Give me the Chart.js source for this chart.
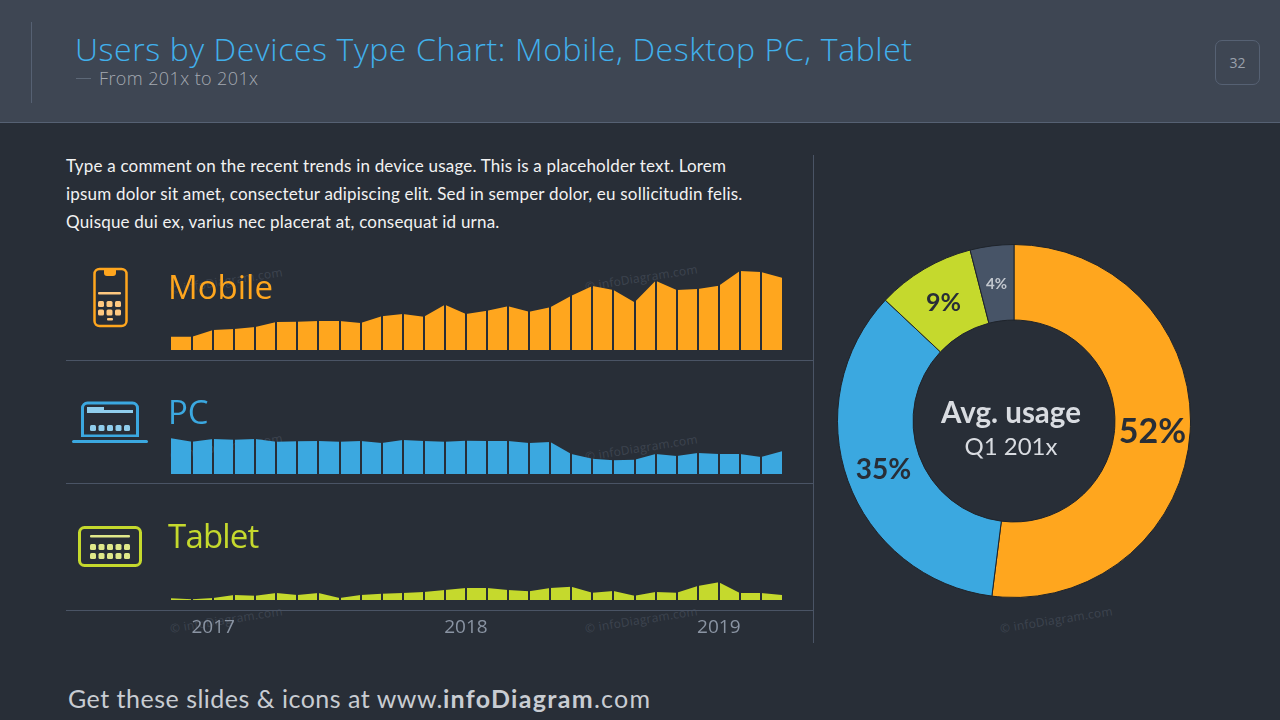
<!DOCTYPE html>
<html>
<head>
<meta charset="utf-8">
<title>Users by Devices Type Chart</title>
<script src="https://cdn.jsdelivr.net/npm/chart.js@4"></script>
<style>
    html, body { margin: 0; padding: 0; background: #282e37; }
    #slide { position: relative; width: 1280px; height: 720px; overflow: hidden; background: #282e37; font-family: Lato, sans-serif; }
    #header { position: absolute; left: 0; top: 0; width: 1280px; height: 122px; background: #3e4653; border-bottom: 1px solid #566173; }
    .txt { position: absolute; white-space: nowrap; }
    .line { position: absolute; background: #4a5465; }
    .mark { position: absolute; white-space: nowrap; color: #3d444f; font: 12px "Open Sans", sans-serif; letter-spacing: 0.25px; transform: rotate(-9deg); transform-origin: left center; }
    canvas { position: absolute; }
    svg { position: absolute; left: 0; top: 0; }
</style>
</head>
<body>
<div id="slide">
    <div id="header"></div>
    <div class="line" style="left:31px;top:22px;width:1px;height:81px;background:#566173"></div>
    <div class="txt" style="left:75px;top:27px;font:300 32px/44px 'Open Sans';color:#41b0ec;letter-spacing:0.6px">Users by Devices Type Chart: Mobile, Desktop PC, Tablet</div>
    <div class="line" style="left:76px;top:78px;width:15px;height:1px;background:#5d6877"></div>
    <div class="txt" style="left:99px;top:65px;font:300 18px/26px 'Open Sans';color:#a4a9b1;letter-spacing:0.4px">From 201x to 201x</div>
    <div class="txt" style="left:1215px;top:40px;width:43px;height:43px;border:1px solid #566173;border-radius:7px;text-align:center;font:14px/43px 'Open Sans';color:#9aa1ab">32</div>

    <div class="txt" style="left:66px;top:152px;font:17px/28px Lato;color:#f2f2f2;letter-spacing:0.2px">Type a comment on the recent trends in device usage. This is a placeholder text.  Lorem</div>
    <div class="txt" style="left:66px;top:180px;font:17px/28px Lato;color:#f2f2f2;letter-spacing:0.2px">ipsum dolor sit amet, consectetur adipiscing elit. Sed in semper dolor, eu sollicitudin felis.</div>
    <div class="txt" style="left:66px;top:208px;font:17px/28px Lato;color:#f2f2f2;letter-spacing:0.2px">Quisque dui ex, varius nec placerat at, consequat id urna.</div>

    <div class="mark" style="left:170px;top:281px">© infoDiagram.com</div>
    <div class="mark" style="left:585px;top:278px">© infoDiagram.com</div>
    <div class="mark" style="left:170px;top:447px">© infoDiagram.com</div>
    <div class="mark" style="left:585px;top:448px">© infoDiagram.com</div>
    <div class="mark" style="left:170px;top:620px">© infoDiagram.com</div>
    <div class="mark" style="left:585px;top:620px">© infoDiagram.com</div>
    <div class="mark" style="left:1000px;top:620px">© infoDiagram.com</div>

    <canvas id="mobileChart" width="611" height="100" style="left:171px;top:250px"></canvas>
    <canvas id="pcChart" width="611" height="100" style="left:171px;top:374px"></canvas>
    <canvas id="tabletChart" width="611" height="140" style="left:171px;top:500px"></canvas>

    <div class="txt" style="left:168px;top:264px;font:33px/46px 'Open Sans';color:#ffa61e">Mobile</div>
    <div class="txt" style="left:168px;top:389px;font:33px/46px 'Open Sans';color:#3ba8e0">PC</div>
    <div class="txt" style="left:168px;top:513px;font:33px/46px 'Open Sans';color:#c5d92d;letter-spacing:-0.8px">Tablet</div>

    <div class="line" style="left:66px;top:360px;width:747px;height:1px"></div>
    <div class="line" style="left:66px;top:483px;width:747px;height:1px"></div>
    <div class="line" style="left:66px;top:610px;width:747px;height:1px"></div>
    <div class="line" style="left:813px;top:155px;width:1px;height:488px"></div>

    <canvas id="usageChart" width="354" height="354" style="left:837px;top:244px"></canvas>
    <div class="txt" style="left:911px;top:393px;width:200px;text-align:center;font:700 29.5px/38px Lato;color:#d9dce1">Avg. usage</div>
    <div class="txt" style="left:911px;top:430px;width:200px;text-align:center;font:24px/32px Lato;color:#d9dce1">Q1 201x</div>

    <div class="txt" style="left:68px;top:680px;font:25px/36px Lato;color:#c8ccd2;letter-spacing:0.5px">Get these slides &amp; icons at www.<b style="letter-spacing:1.3px">infoDiagram</b><span style="letter-spacing:1.3px">.com</span></div>

    <svg width="1280" height="720">
        <!-- phone -->
        <g fill="none" stroke="#ffa61e" stroke-width="2.5"><rect x="94.5" y="269" width="32" height="57" rx="5"/></g>
        <path d="M104 268h12v5a3 3 0 0 1-3 3h-6a3 3 0 0 1-3-3z" fill="#ffa61e"/>
        <g fill="#ffc880">
            <rect x="98" y="292" width="23" height="2.5" rx="1"/>
            <rect x="98" y="301" width="6" height="6" rx="1.5"/><rect x="106.500" y="301" width="6" height="6" rx="1.5"/><rect x="115" y="301" width="6" height="6" rx="1.5"/>
            <rect x="98" y="309.500" width="6" height="6" rx="1.5"/><rect x="106.500" y="309.500" width="6" height="6" rx="1.5"/><rect x="115" y="309.500" width="6" height="6" rx="1.5"/>
            <rect x="107" y="318" width="6" height="2.5" rx="1"/>
        </g>
        <!-- laptop -->
        <path d="M82.500 436.500V408a5 5 0 0 1 5-5h45a5 5 0 0 1 5 5v28.500" fill="none" stroke="#3ba8e0" stroke-width="3"/>
        <rect x="81" y="434.500" width="58" height="2.500" fill="#3ba8e0"/>
        <rect x="72" y="440" width="76" height="3" rx="1.5" fill="#3ba8e0"/>
        <g fill="#8fcdec">
            <path d="M87 407h17v3h29v3H87z"/>
            <rect x="90" y="425" width="6" height="6" rx="1.5"/><rect x="98.500" y="425" width="6" height="6" rx="1.5"/><rect x="107" y="425" width="6" height="6" rx="1.5"/><rect x="115.500" y="425" width="6" height="6" rx="1.5"/><rect x="124" y="425" width="6" height="6" rx="1.5"/>
        </g>
        <!-- tablet -->
        <rect x="79.500" y="527.500" width="61" height="38" rx="5" fill="none" stroke="#c5d92d" stroke-width="3"/>
        <g fill="#dfe88a">
            <rect x="90" y="535" width="40" height="2.500" rx="1"/>
            <rect x="90" y="544" width="6" height="6" rx="1.5"/><rect x="98.500" y="544" width="6" height="6" rx="1.5"/><rect x="107" y="544" width="6" height="6" rx="1.5"/><rect x="115.500" y="544" width="6" height="6" rx="1.5"/><rect x="124" y="544" width="6" height="6" rx="1.5"/>
            <rect x="90" y="553" width="6" height="6" rx="1.5"/><rect x="98.500" y="553" width="6" height="6" rx="1.5"/><rect x="107" y="553" width="6" height="6" rx="1.5"/><rect x="115.500" y="553" width="6" height="6" rx="1.5"/><rect x="124" y="553" width="6" height="6" rx="1.5"/>
        </g>
    </svg>
</div>

<script>
// Monthly points, only the January of each year carries a label
const months = ['', '', '2017', '', '', '', '', '', '', '', '', '', '', '', '2018', '', '', '', '', '', '', '', '', '', '', '', '2019', '', '', ''];

const mobileValues = [13.3, 13.3, 20, 21, 23, 28, 28.3, 29, 29, 27, 33.7, 36, 33.3, 45.3, 36, 39.3, 43.7, 38.3, 42.7, 54.3, 64, 60, 47.7, 69.3, 60, 61, 64.3, 79, 78, 72.3];
const pcValues = [35.7, 32.3, 35, 34.3, 35, 32.3, 32.7, 33, 32.3, 33, 31, 34, 33, 32.3, 33.3, 33, 33, 31, 32, 20, 15.3, 13.7, 14.3, 20, 18, 21, 20, 20, 17, 22.7];
const tabletValues = [1.7, 0.7, 2, 5, 4.3, 7, 5, 7, 2, 5, 6.3, 7, 8, 10, 12, 12, 10, 8.7, 12, 13.3, 7.3, 9, 4.3, 8, 7.3, 14, 17.7, 7, 7, 5];

const usageLabels = ['Mobile', 'PC', 'Tablet', 'Other'];
const usageValues = [52, 35, 9, 4];

const orange = '#ffa61e';
const blue = '#3ba8e0';
const green = '#c5d92d';
const slate = '#475467';

// Cuts the filled area into columns at every month
const monthCuts = {
    id: 'monthCuts',
    afterDatasetsDraw(chart) {
        const ctx = chart.ctx;
        const area = chart.chartArea;
        const x = chart.scales.x;
        ctx.save();
        ctx.globalCompositeOperation = 'destination-out';
        ctx.lineWidth = 2;
        for (let i = 1; i < months.length - 1; i++) {
            const px = Math.round(x.getPixelForValue(i));
            ctx.beginPath();
            ctx.moveTo(px, area.top);
            ctx.lineTo(px, area.bottom);
            ctx.stroke();
        }
        ctx.restore();
    }
};

function areaChart(id, label, values, color, showYears) {
    return new Chart(document.getElementById(id), {
        type: 'line',
        data: {
            labels: months,
            datasets: [{
                label: label,
                data: values,
                backgroundColor: color,
                borderWidth: 0,
                pointRadius: 0,
                tension: 0,
                fill: 'origin'
            }]
        },
        options: {
            responsive: false,
            animation: false,
            layout: { padding: 0 },
            plugins: { legend: { display: false }, tooltip: { enabled: false } },
            scales: {
                x: {
                    afterFit: (axis) => {
                        axis.height = showYears ? 40 : 0;
                        axis.paddingLeft = 0;
                        axis.paddingRight = 0;
                    },
                    border: { display: false },
                    grid: { display: false },
                    ticks: {
                        display: showYears,
                        autoSkip: false,
                        maxRotation: 0,
                        padding: 8,
                        color: '#8a94a3',
                        font: { family: 'Open Sans', size: 19 }
                    }
                },
                y: { display: false, min: 0, max: 100 }
            }
        },
        plugins: [monthCuts]
    });
}

areaChart('mobileChart', 'Mobile', mobileValues, orange, false);
areaChart('pcChart', 'PC', pcValues, blue, false);
areaChart('tabletChart', 'Tablet', tabletValues, green, true);

// Percent labels sit in the middle of each ring slice
const sliceLabels = {
    id: 'sliceLabels',
    afterDatasetsDraw(chart) {
        const ctx = chart.ctx;
        const sizes = [34, 28, 25, 15];
        const colors = ['#282e37', '#282e37', '#282e37', '#c3c8cf'];
        chart.getDatasetMeta(0).data.forEach((arc, i) => {
            const p = arc.getCenterPoint();
            ctx.save();
            ctx.font = 'bold ' + sizes[i] + 'px Lato';
            ctx.fillStyle = colors[i];
            ctx.textAlign = 'center';
            ctx.textBaseline = 'middle';
            ctx.fillText(usageValues[i] + '%', p.x, p.y + sizes[i] * 0.07);
            ctx.restore();
        });
    }
};

new Chart(document.getElementById('usageChart'), {
    type: 'doughnut',
    data: {
        labels: usageLabels,
        datasets: [{
            data: usageValues,
            backgroundColor: [orange, blue, green, slate],
            borderColor: '#1f242b',
            borderWidth: 1
        }]
    },
    options: {
        responsive: false,
        animation: false,
        cutout: '57.2%',
        layout: { padding: 0 },
        plugins: { legend: { display: false }, tooltip: { enabled: false } }
    },
    plugins: [sliceLabels]
});
</script>
</body>
</html>
